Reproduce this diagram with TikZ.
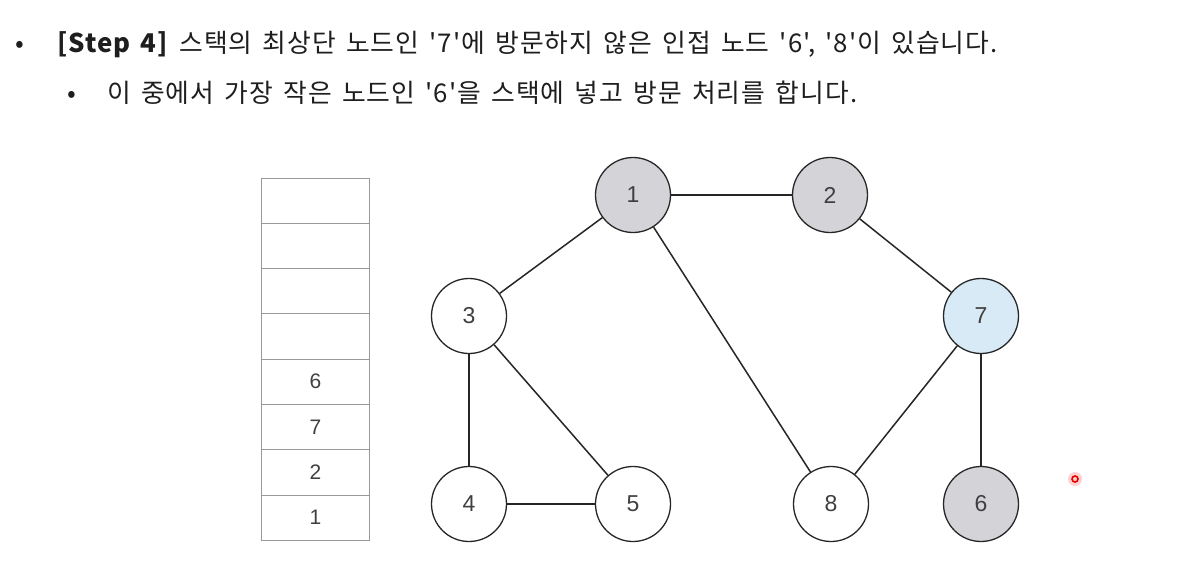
\documentclass[tikz,border=0pt]{standalone}
\usepackage{fontspec}
\newfontfamily\kr[LetterSpace=4,WordSpace=1.5]{Noto Sans CJK KR}
\newfontfamily\numfont{Liberation Sans}
\definecolor{visited}{HTML}{D4D3D8}
\definecolor{current}{HTML}{D8EAF6}
\definecolor{txt}{HTML}{1E1E1E}
\begin{document}
\begin{tikzpicture}[x=1pt,y=-1pt,
  vtx/.style={circle,draw=black!85,line width=1.3pt,minimum size=75pt,inner sep=0pt,fill=white,font=\numfont\fontsize{23}{26}\selectfont,text=black!75},
  seen/.style={vtx,fill=visited},
  cur/.style={vtx,fill=current},
  cell/.style={draw=black!40,line width=0.8pt,minimum width=108pt,minimum height=45.3pt,inner sep=0pt,font=\numfont\fontsize{21}{24}\selectfont,text=black!75,anchor=north west},
  edge/.style={line width=1.5pt,draw=black!85},
  line1/.style={anchor=base west,inner sep=0pt,font=\kr\fontsize{25.8}{28}\selectfont,text=txt}]
\useasboundingbox (0,0) rectangle (1180,563);
% text
\node[line1] (b1) at (15,52) {•};
\node[line1] (t1) at (57,52) {\textbf{[Step 4]} 스택의 최상단 노드인 '7'에 방문하지 않은 인접 노드 '6', '8'이 있습니다.};
\node[line1] (b2) at (67,102) {•};
\node[line1] (t2) at (107,102) {이 중에서 가장 작은 노드인 '6'을 스택에 넣고 방문 처리를 합니다.};
% stack
\foreach \i/\v in {0/,1/,2/,3/,4/6,5/7,6/2,7/1}{
  \node[cell] (s\i) at (261,177.5+45.3*\i) {\v};
}
% nodes
\node[seen] (n1) at (633,195) {1};
\node[seen] (n2) at (830,195) {2};
\node[vtx] (n3) at (469,316) {3};
\node[cur] (n7) at (981,316) {7};
\node[vtx] (n4) at (469,504) {4};
\node[vtx] (n5) at (633,504) {5};
\node[vtx] (n8) at (831,504) {8};
\node[seen] (n6) at (981,504) {6};
% edges
\draw[edge] (n1) -- (n2);
\draw[edge] (n1) -- (n3);
\draw[edge] (n1) -- (n8);
\draw[edge] (n2) -- (n7);
\draw[edge] (n3) -- (n4);
\draw[edge] (n3) -- (n5);
\draw[edge] (n4) -- (n5);
\draw[edge] (n7) -- (n8);
\draw[edge] (n7) -- (n6);
% laser pointer
\fill[red!30,opacity=0.6] (1075,479) circle (7);
\draw[red!90!black,line width=1.6pt] (1075,479) circle (3);
\end{tikzpicture}
\end{document}
